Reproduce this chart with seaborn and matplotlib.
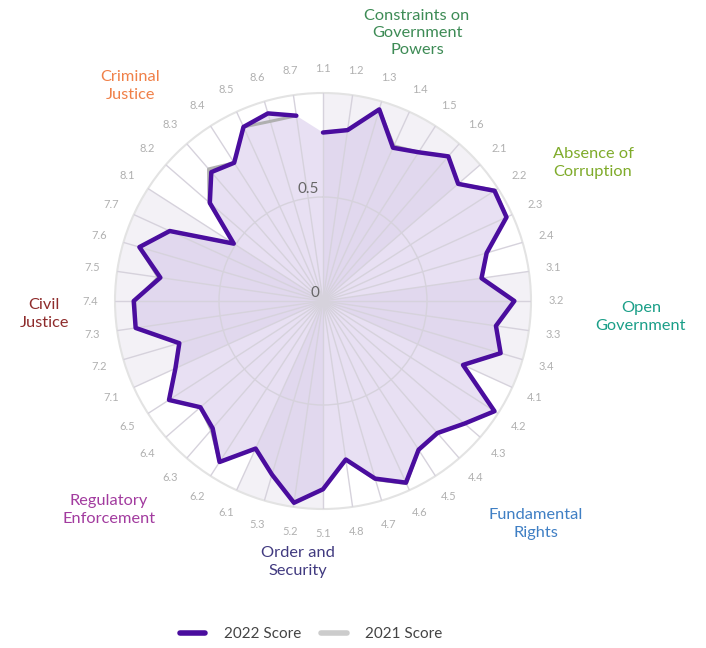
import numpy as np
import pandas as pd
import matplotlib
matplotlib.use("Agg")
import matplotlib.pyplot as plt
from matplotlib.lines import Line2D
import seaborn as sns

# ---------------- data ----------------
subfactors = ["1.1", "1.2", "1.3", "1.4", "1.5", "1.6",
              "2.1", "2.2", "2.3", "2.4",
              "3.1", "3.2", "3.3", "3.4",
              "4.1", "4.2", "4.3", "4.4", "4.5", "4.6", "4.7", "4.8",
              "5.1", "5.2", "5.3",
              "6.1", "6.2", "6.3", "6.4", "6.5",
              "7.1", "7.2", "7.3", "7.4", "7.5", "7.6", "7.7",
              "8.1", "8.2", "8.3", "8.4", "8.5", "8.6", "8.7"]

score_2022 = [0.81, 0.83, 0.96, 0.81, 0.85, 0.92,
              0.86, 0.98, 0.97, 0.82,
              0.77, 0.92, 0.84, 0.89,
              0.74, 0.98, 0.90, 0.84, 0.85, 0.96, 0.89, 0.77,
              0.905, 0.98, 0.87,
              0.78, 0.92, 0.81, 0.78, 0.88,
              0.78, 0.72, 0.91, 0.91, 0.79, 0.92, 0.81,
              0.51, 0.72, 0.82, 0.79, 0.92, 0.94, 0.90]

score_2021 = [0.81, 0.83, 0.96, 0.82, 0.85, 0.92,
              0.86, 0.985, 0.97, 0.82,
              0.77, 0.92, 0.84, 0.89,
              0.74, 0.98, 0.90, 0.84, 0.85, 0.965, 0.895, 0.77,
              0.905, 0.98, 0.87,
              0.78, 0.92, 0.82, 0.78, 0.88,
              0.78, 0.72, 0.91, 0.905, 0.80, 0.92, 0.81,
              0.51, 0.725, 0.84, 0.79, 0.92, 0.90, 0.90]

factor_names = ["Constraints on\nGovernment\nPowers", "Absence of\nCorruption",
                "Open\nGovernment", "Fundamental\nRights", "Order and\nSecurity",
                "Regulatory\nEnforcement", "Civil\nJustice", "Criminal\nJustice"]
factor_colors = ["#3d8b55", "#7fab2a", "#1a9f88", "#3f7fc4",
                 "#413a80", "#a23b9f", "#8e2b2b", "#f08048"]
factor_sizes = [6, 4, 4, 8, 3, 5, 7, 7]
factor_label_px = [(417, 33), (593, 163), (641, 317), (536, 524),
                   (298, 562), (109, 510), (44, 314), (130, 86)]

# ---------------- style ----------------
sns.set_theme(style="white")
plt.rcParams["font.family"] = ["Lato", "DejaVu Sans"]

W, H = 706, 648
fig = plt.figure(figsize=(W / 100, H / 100), dpi=100)
cx, cy, R = 323, 301, 208
ax = fig.add_axes([(cx - R) / W, (H - cy - R) / H, 2 * R / W, 2 * R / H],
                  projection="polar")
ax.set_theta_zero_location("N")
ax.set_theta_direction(-1)
ax.set_ylim(0, 1)

n = len(subfactors)
step = 2 * np.pi / n
theta = np.arange(n) * step

# alternate factor bands
start = 0
for k, size in enumerate(factor_sizes):
    if k % 2 == 0:
        ax.bar(start * step, 1.0, width=size * step, align="edge", bottom=0,
               color="#f3f1f6", edgecolor="none", zorder=0.5)
    start += size

df = pd.DataFrame({
    "theta": np.append(theta, theta[0]),
    "s2022": score_2022 + [score_2022[0]],
    "s2021": score_2021 + [score_2021[0]],
})

ax.fill(df["theta"], df["s2022"], color="#c9b6e4", alpha=0.42, lw=0, zorder=1)
sns.lineplot(data=df, x="theta", y="s2021", sort=False, ax=ax,
             color="#b0b0b0", lw=2.2, zorder=3)
sns.lineplot(data=df, x="theta", y="s2022", sort=False, ax=ax,
             color="#4a0d9e", lw=3.2, zorder=4)

# grid
ax.set_xticks(theta)
ax.set_xticklabels([])
ax.set_yticks([0.5])
ax.set_yticklabels([])
ax.grid(True, color="#d6d2dc", lw=1)
ax.set_axisbelow(False)
ax.spines["polar"].set_color("#e3e3e3")
ax.spines["polar"].set_linewidth(1.5)
ax.tick_params(length=0, pad=0)
ax.set_xlabel("")
ax.set_ylabel("")

# sub-factor labels
for t, lab in zip(theta, subfactors):
    ax.text(t, 1.12, lab, ha="center", va="center", fontsize=8,
            color="#b0b0b0")

# radial labels
for r, lab in [(0.0, "0"), (0.5, "0.5")]:
    ax.annotate(lab, xy=(0, r), xytext=(-4, 8), textcoords="offset pixels",
                ha="right", va="center", fontsize=11, color="#666666")

# factor labels
for name, col, (px, py) in zip(factor_names, factor_colors, factor_label_px):
    fig.text(px / W, 1 - py / H, name, ha="center", va="center",
             fontsize=11.8, color=col, linespacing=1.3)

# legend
handles = [Line2D([], [], color="#4a0d9e", lw=4),
           Line2D([], [], color="#cccccc", lw=4)]
leg = fig.legend(handles, ["2022 Score", "2021 Score"], loc="center",
                 bbox_to_anchor=(311 / W, 1 - 634 / H), ncol=2, frameon=False,
                 fontsize=11, handlelength=1.7, handletextpad=1.2,
                 columnspacing=1.3)
for txt in leg.get_texts():
    txt.set_color("#444444")

fig.savefig("out.png", dpi=100)
